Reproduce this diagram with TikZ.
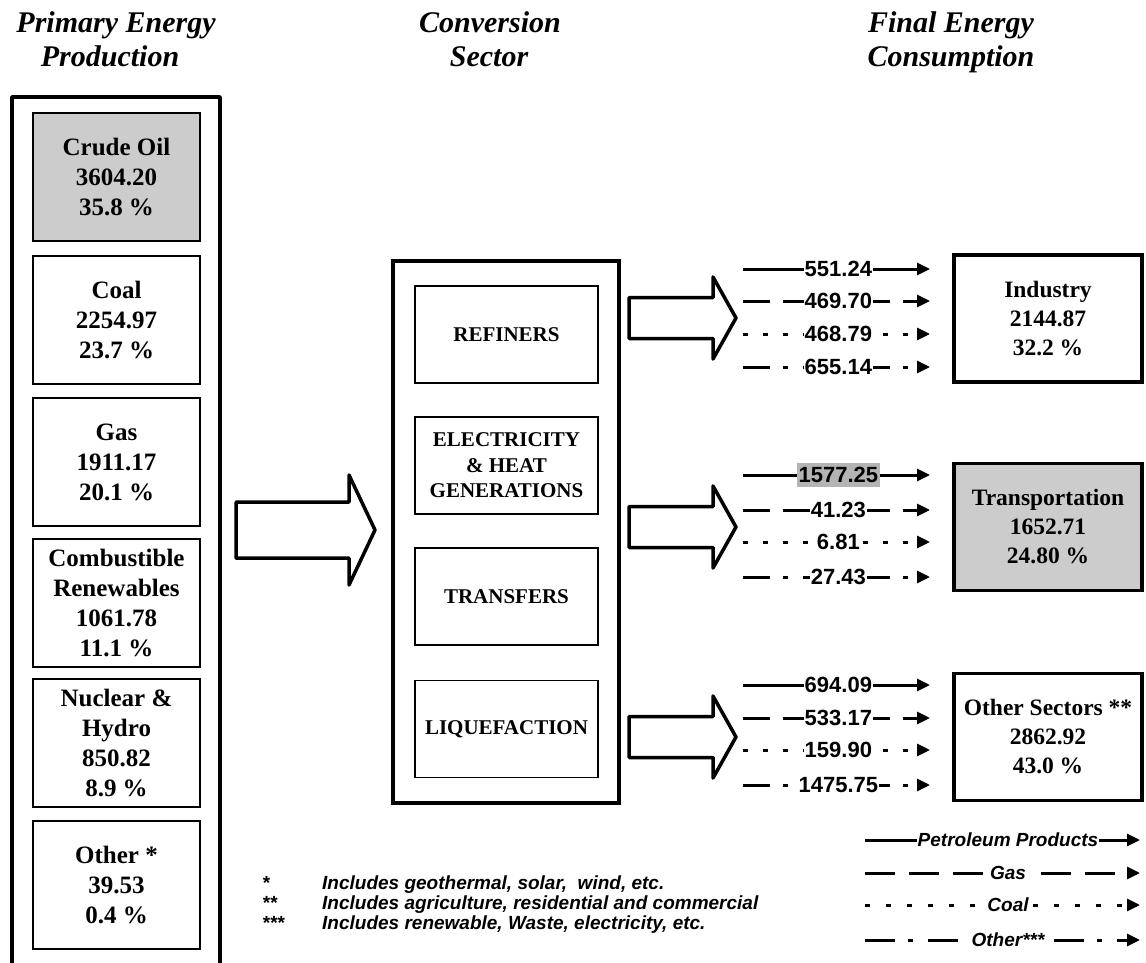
\documentclass[tikz,border=0pt]{standalone}
\usepackage{fontspec}
\setmainfont{Liberation Serif}
\newfontfamily\arial{Liberation Sans}
\usetikzlibrary{arrows.meta}

\definecolor{boxgray}{HTML}{CCCCCC}
\definecolor{lblgray}{HTML}{B4B4B4}

\begin{document}
\begin{tikzpicture}[x=1pt,y=-1pt,
  title/.style={anchor=base, font=\bfseries\itshape\fontsize{30}{30}\selectfont},
  srcbox/.style={draw, line width=1.6pt, minimum width=167pt, minimum height=128pt,
    inner sep=0pt, align=center, font=\bfseries\fontsize{25}{30}\selectfont},
  convbox/.style={draw, line width=1.6pt, minimum width=183pt, minimum height=97pt,
    inner sep=0pt, align=center, font=\bfseries\fontsize{21}{25.5}\selectfont},
  usebox/.style={draw, line width=3.5pt, minimum width=188pt, minimum height=127pt,
    inner sep=0pt, align=center, font=\bfseries\fontsize{23.5}{29}\selectfont},
  frame/.style={draw, line width=3.5pt, line join=round},
  blockarrow/.style={draw, line width=3.5pt, line join=round, fill=white},
  flow/.style={line width=3pt, -{Triangle[length=13pt,width=12pt]}},
  pline/.style={flow},
  gline/.style={flow, dash pattern=on 27pt off 13pt},
  cline/.style={flow, dash pattern=on 5pt off 15pt},
  oline/.style={flow, dash pattern=on 27pt off 13pt on 5pt off 15pt},
  lbl/.style={pos=0.51, fill=white, inner xsep=1pt, inner ysep=2pt,
    font=\arial\bfseries\fontsize{22}{22}\selectfont},
  keylbl/.style={pos=0.52, fill=white, inner xsep=1pt, inner ysep=2pt,
    font=\arial\bfseries\itshape\fontsize{19}{19}\selectfont},
  note/.style={anchor=base west, inner sep=0pt,
    font=\arial\bfseries\itshape\fontsize{19}{19}\selectfont}
]
\useasboundingbox (0,0) rectangle (1146,963);

% column headings
\node[title] (h1a) at (116,33) {Primary Energy};
\node[title] (h1b) at (110,67) {Production};
\node[title] (h2a) at (490,33) {Conversion};
\node[title] (h2b) at (489,67) {Sector};
\node[title] (h3a) at (951,33) {Final Energy};
\node[title] (h3b) at (951,67) {Consumption};

% primary energy column
\draw[frame] (12,985) -- (12,97) -- (220,97) -- (220,985);
\node[srcbox, fill=boxgray] (oil) at (116.5,177) {Crude Oil\\3604.20\\35.8 \%};
\node[srcbox] (coal) at (116.5,320) {Coal\\2254.97\\23.7 \%};
\node[srcbox] (gas)  at (116.5,462) {Gas\\1911.17\\20.1 \%};
\node[srcbox] (comb) at (116.5,603) {Combustible\\Renewables\\1061.78\\11.1 \%};
\node[srcbox] (nuc)  at (116.5,743) {Nuclear \&\\Hydro\\850.82\\8.9 \%};
\node[srcbox] (oth)  at (116.5,885) {Other *\\39.53\\0.4 \%};

% arrow into the conversion sector
\draw[blockarrow] (236,502) -- (349,502) -- (349,475) -- (375,530)
  -- (349,585) -- (349,558) -- (236,558) -- cycle;

% conversion sector
\node[draw, line width=3.5pt, minimum width=226pt, minimum height=542pt, inner sep=0pt]
  (conv) at (506,532) {};
\node[convbox] (ref)  at (506.5,334.5) {REFINERS};
\node[convbox] (elec) at (506.5,465.5) {ELECTRICITY\\\& HEAT\\GENERATIONS};
\node[convbox] (trf)  at (506.5,596.5) {TRANSFERS};
\node[convbox] (liq)  at (506.5,729)   {LIQUEFACTION};

% arrows out of the conversion sector
\foreach \cy in {318,527,737}{
  \draw[blockarrow] (629,\cy-20.5) -- (713,\cy-20.5) -- (713,\cy-41) -- (736,\cy)
    -- (713,\cy+41) -- (713,\cy+20.5) -- (629,\cy+20.5) -- cycle;
}

% final consumption
\node[usebox] (ind) at (1048,318.5) {Industry\\2144.87\\32.2 \%};
\node[usebox, fill=boxgray] (trn) at (1048,527) {Transportation\\1652.71\\24.80 \%};
\node[usebox] (osec) at (1048,737) {Other Sectors **\\2862.92\\43.0 \%};

% flow line end points
\foreach \y [count=\i] in {269,301,334,367,475,510,542,577,685,718,750,785}{
  \coordinate (s\i) at (743,\y);
  \coordinate (e\i) at (930,\y);
}
\foreach \y [count=\i] in {840,873,905,940}{
  \coordinate (ks\i) at (865,\y);
  \coordinate (ke\i) at (1140,\y);
}

% flows to industry
\draw[pline] (s1) -- node[lbl] (v1) {551.24} (e1);
\draw[gline] (s2) -- node[lbl] (v2) {469.70} (e2);
\draw[cline] (s3) -- node[lbl] (v3) {468.79} (e3);
\draw[oline] (s4) -- node[lbl] (v4) {655.14} (e4);
% flows to transportation
\draw[pline] (s5) -- node[lbl, fill=lblgray, inner xsep=2pt, inner ysep=4pt] (v5) {1577.25} (e5);
\draw[gline] (s6) -- node[lbl] (v6) {41.23} (e6);
\draw[cline] (s7) -- node[lbl] (v7) {6.81} (e7);
\draw[oline] (s8) -- node[lbl] (v8) {27.43} (e8);
% flows to other sectors
\draw[pline] (s9)  -- node[lbl] (v9)  {694.09} (e9);
\draw[gline] (s10) -- node[lbl] (v10) {533.17} (e10);
\draw[cline] (s11) -- node[lbl] (v11) {159.90} (e11);
\draw[oline] (s12) -- node[lbl] (v12) {1475.75} (e12);

% key
\draw[pline] (ks1) -- node[keylbl] (k1) {Petroleum Products} (ke1);
\draw[gline, dash pattern=on 30pt off 14pt] (ks2) -- node[keylbl] (k2) {Gas} (ke2);
\draw[cline, dash pattern=on 5pt off 16pt] (ks3) -- node[keylbl] (k3) {Coal} (ke3);
\draw[oline, dash pattern=on 30pt off 13pt on 5pt off 15pt] (ks4) -- node[keylbl] (k4) {Other***} (ke4);

% footnotes
\node[note] (n1m) at (262,889) {*};
\node[note] (n2m) at (262,909) {**};
\node[note] (n3m) at (262,929) {***};
\node[note] (n1) at (322,889) {Includes geothermal, solar,\ \ wind, etc.};
\node[note] (n2) at (322,909) {Includes agriculture, residential and commercial};
\node[note] (n3) at (322,929) {Includes renewable, Waste, electricity, etc.};
\end{tikzpicture}
\end{document}
